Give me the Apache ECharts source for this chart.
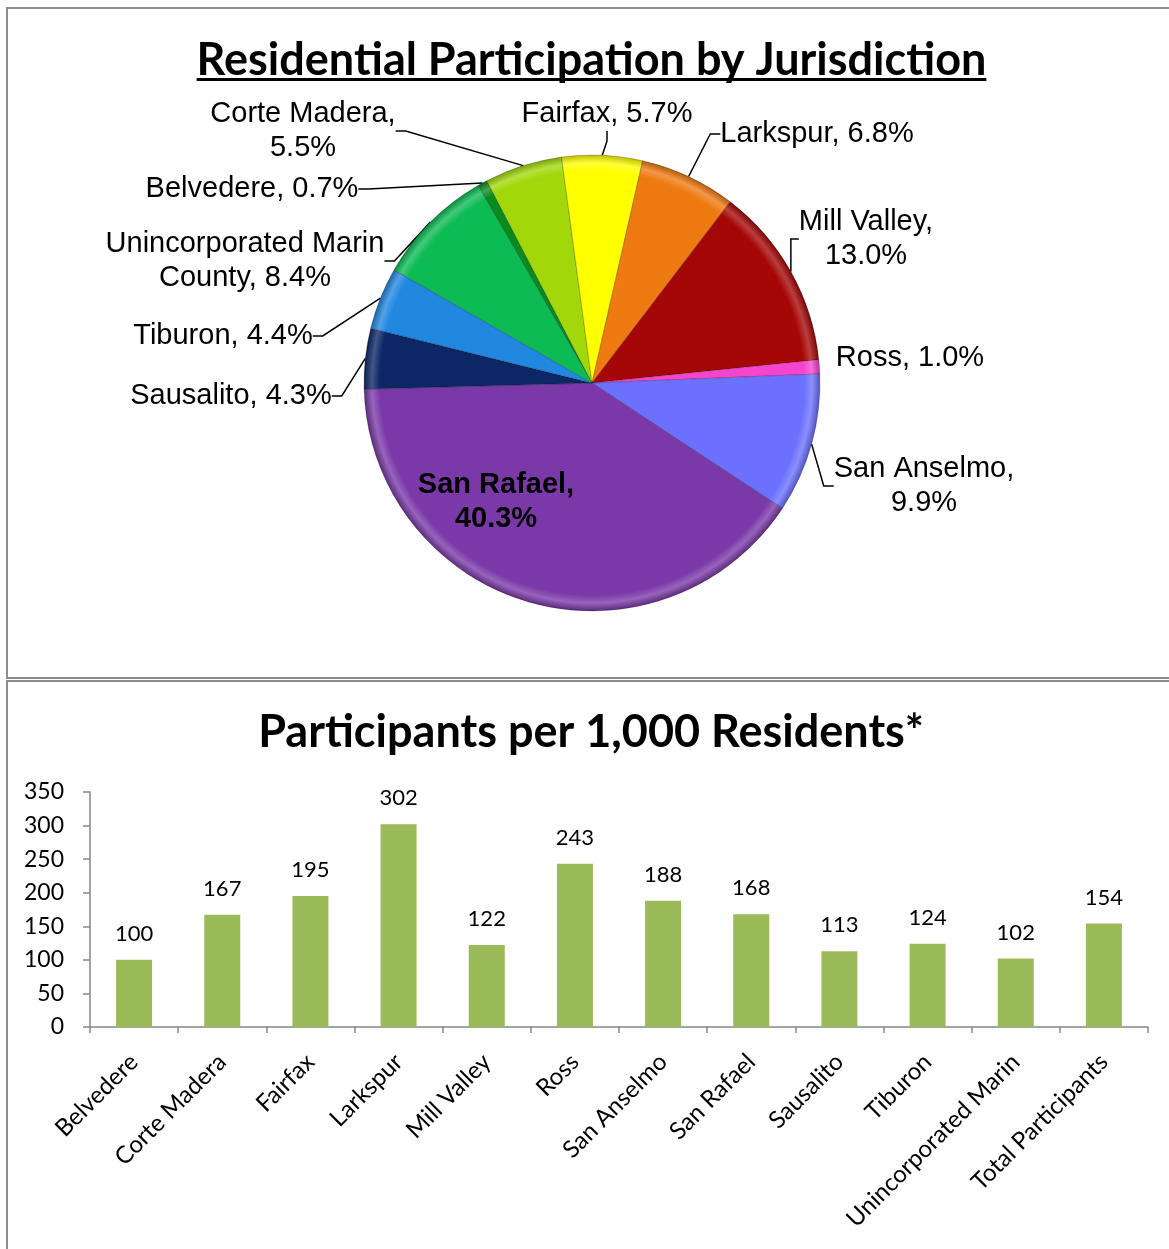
<!DOCTYPE html>
<html><head><meta charset="utf-8">
<script src="https://cdn.jsdelivr.net/npm/echarts@6/dist/echarts.min.js"></script>
<style>html,body{margin:0;padding:0;background:#fff}#c{width:1169px;height:1249px}</style>
</head><body><div id="c"></div>
<script>
// ---- data ----
const pieNames = ['Belvedere','Corte Madera','Fairfax','Larkspur','Mill Valley','Ross','San Anselmo','San Rafael','Sausalito','Tiburon','Unincorporated Marin County'];
const pieLabelNames = ['Belvedere','Corte Madera','Fairfax','Larkspur','Mill Valley','Ross','San Anselmo','San Rafael','Sausalito','Tiburon','Unincorporated Marin\nCounty'];
const pieShares = [0.7,5.5,5.7,6.8,13.0,1.0,9.9,40.3,4.3,4.4,8.4];
const pieColors = ['#0b8a1e','#a2d80a','#ffff00','#f07a12','#a50707','#f545cf','#6b70ff','#7a38a8','#0c2666','#2188e0','#0dbb55'];
const pieBreakAfterComma = ['Corte Madera','Mill Valley','San Anselmo','San Rafael'];

const barCategories = ['Belvedere','Corte Madera','Fairfax','Larkspur','Mill Valley','Ross','San Anselmo','San Rafael','Sausalito','Tiburon','Unincorporated Marin','Total Participants'];
const barValues = [100,167,195,302,122,243,188,168,113,124,102,154];
const yAxisMin = 0, yAxisMax = 350, yAxisStep = 50;

const title1 = 'Residential Participation by Jurisdiction';
const title2 = 'Participants per 1,000 Residents*';

// ---- label layout (positions of pie labels) ----
const pieLabelPos = [[252,189],[303,131],[607,114],[817,134],[866,239],[910,358],[924,486],[496,502],[231,396],[223,336],[245,261]];

const PIE_CX = 592, PIE_CY = 383, PIE_R = 228;
const titleFont = 'bold 45px Lato';
function textWidth(t, f){const c=document.createElement('canvas').getContext('2d');c.font=f;return c.measureText(t).width;}
function mix(hex, target, t){
  const h = hex.replace('#','');
  const c = [0,2,4].map(i=>parseInt(h.substr(i,2),16));
  const m = c.map(v=>Math.round(v + (target - v) * t));
  return 'rgb(' + m.join(',') + ')';
}
function bevel(col){
  return {type:'radial', x:PIE_CX, y:PIE_CY, r:PIE_R, global:true, colorStops:[
    {offset:0, color:col},
    {offset:0.93, color:col},
    {offset:0.965, color:mix(col,255,0.22)},
    {offset:1, color:mix(col,0,0.25)}
  ]};
}

const chart = echarts.init(document.getElementById('c'), null, {renderer:'canvas'});

const pieData = pieNames.map((n,i)=>{
  const item = {name:n, value:pieShares[i], itemStyle:{color:bevel(pieColors[i])}};
  if (n==='San Rafael') {
    item.label = {fontWeight:'bold'};
    item.labelLine = {show:false};
  }
  if (n==='Ross') item.labelLine = {show:false};
  return item;
});

function pieFmt(p){
  const lbl = pieLabelNames[p.dataIndex];
  const sep = pieBreakAfterComma.indexOf(pieNames[p.dataIndex])>=0 ? ',\n' : ', ';
  return lbl + sep + p.value.toFixed(1) + '%';
}

const tw = textWidth(title1, titleFont);

chart.setOption({
  animation:false,
  backgroundColor:'#fff',
  graphic:[
    {type:'rect', shape:{x:7,y:8,width:1200,height:670}, style:{fill:'none', stroke:'#8c8c8c', lineWidth:2}, silent:true, z:-1},
    {type:'rect', shape:{x:7,y:681,width:1200,height:700}, style:{fill:'none', stroke:'#8c8c8c', lineWidth:2}, silent:true, z:-1},
    {type:'text', x:591.5, y:60, style:{text:title1, font:titleFont, fill:'#000', align:'center', verticalAlign:'middle'}, silent:true},
    {type:'rect', shape:{x:591.5 - tw/2, y:78, width:tw, height:3}, style:{fill:'#000'}, silent:true},
    {type:'text', x:591, y:732, style:{text:title2, font:titleFont, fill:'#000', align:'center', verticalAlign:'middle'}, silent:true}
  ],
  grid:{left:90, right:21, top:792, bottom:222, containLabel:false},
  xAxis:{
    type:'category', data:barCategories,
    axisLine:{lineStyle:{color:'#868686', width:1.5}},
    axisTick:{show:true, length:6, lineStyle:{color:'#868686', width:1.5}},
    axisLabel:{rotate:45, margin:31, interval:0, fontFamily:'Lato', fontSize:24, color:'#000'}
  },
  yAxis:{
    type:'value', min:yAxisMin, max:yAxisMax, interval:yAxisStep,
    axisLine:{show:true, lineStyle:{color:'#868686', width:1.5}},
    axisTick:{show:true, length:7, lineStyle:{color:'#868686', width:1.5}},
    splitLine:{show:false},
    axisLabel:{margin:26, fontFamily:'Lato', fontSize:23, color:'#000'}
  },
  series:[
    {
      type:'bar', data:barValues, barWidth:36,
      itemStyle:{color:'#9bbb59'},
      label:{show:true, position:'top', distance:15, fontFamily:'Lato', fontSize:22, color:'#000'}
    },
    {
      type:'pie', center:[PIE_CX,PIE_CY], radius:[0,PIE_R], startAngle:120, clockwise:true,
      data:pieData,
      itemStyle:{borderColor:'rgba(0,0,0,0.22)', borderWidth:1},
      label:{show:true, position:'outside', formatter:pieFmt, fontFamily:'Liberation Sans, Arial', fontSize:29, lineHeight:34, color:'#000', align:'center'},
      labelLine:{show:true, length:10, length2:10, lineStyle:{color:'#000', width:1.5}},
      labelLayout:function(p){
        const pos = pieLabelPos[p.dataIndex];
        return {x:pos[0], y:pos[1], align:'center', verticalAlign:'middle'};
      },
      emphasis:{disabled:true}
    }
  ]
});
</script></body></html>
